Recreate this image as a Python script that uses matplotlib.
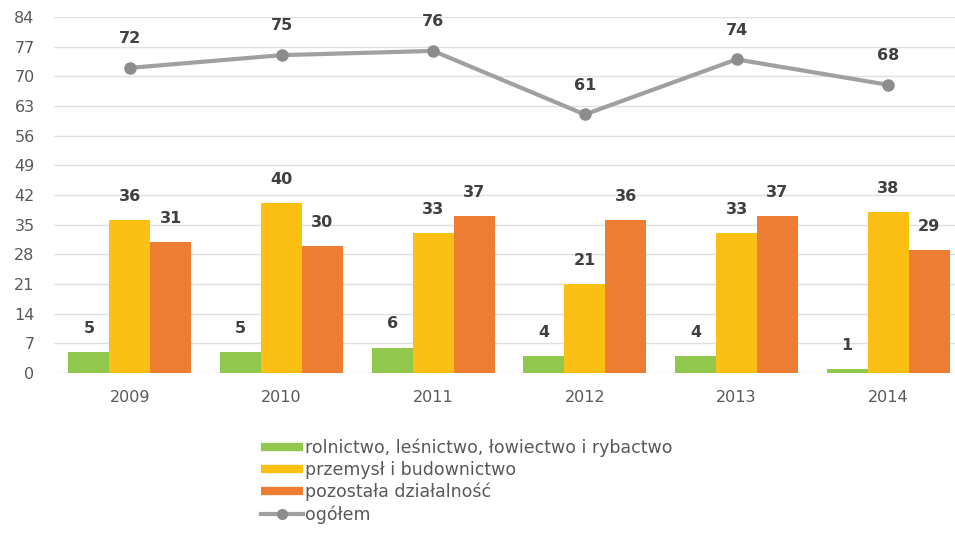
import matplotlib.pyplot as plt
from matplotlib.lines import Line2D
import numpy as np

plt.rcParams['font.family'] = ['DejaVu Sans']

# dane
lata = ['2009', '2010', '2011', '2012', '2013', '2014']
rolnictwo = [5, 5, 6, 4, 4, 1]
przemysl = [36, 40, 33, 21, 33, 38]
pozostala = [31, 30, 37, 36, 37, 29]
ogolem = [72, 75, 76, 61, 74, 68]

serie = ['rolnictwo, leśnictwo, łowiectwo i rybactwo',
         'przemysł i budownictwo',
         'pozostała działalność',
         'ogółem']
kolory = ['#92C84E', '#FCBF14', '#ED7D32']
szary_linia = '#A0A0A0'
szary_tekst = '#595959'
etykieta = '#404040'

fig = plt.figure(figsize=(9.55, 5.35), dpi=100)
ax = fig.add_axes([54 / 955, 0.3028, 910 / 955, 0.6654])

x = np.arange(len(lata))
w = 0.27
for i, (vals, kol) in enumerate(zip([rolnictwo, przemysl, pozostala], kolory)):
    pos = x + (i - 1) * w
    ax.bar(pos, vals, width=w, color=kol, zorder=2)
    for p, v in zip(pos, vals):
        ax.annotate(str(v), (p, v), xytext=(0, 17), textcoords='offset points',
                    ha='center', va='center', fontsize=11.5, fontweight='bold',
                    color=etykieta)

ax.plot(x, ogolem, color=szary_linia, lw=3, marker='o', markersize=8,
        markerfacecolor='#8C8C8C', markeredgecolor='#8C8C8C', zorder=3)
for p, v in zip(x, ogolem):
    ax.annotate(str(v), (p, v), xytext=(0, 21), textcoords='offset points',
                ha='center', va='center', fontsize=11.5, fontweight='bold',
                color=etykieta)

ax.set_xlim(-0.5, len(lata) - 0.5)
ax.set_ylim(0, 84)
ax.set_yticks(range(0, 85, 7))
ax.set_xticks(x)
ax.set_xticklabels(lata)
ax.tick_params(axis='both', length=0, labelsize=11.5, colors=szary_tekst)
ax.tick_params(axis='x', pad=12)
ax.tick_params(axis='y', pad=14)
ax.grid(axis='y', color='#E0E0E0', lw=1, zorder=0)
for s in ax.spines.values():
    s.set_visible(False)

uchwyty = [Line2D([], [], color=kolory[0], lw=6, solid_capstyle='butt'),
           Line2D([], [], color=kolory[1], lw=6, solid_capstyle='butt'),
           Line2D([], [], color=kolory[2], lw=6, solid_capstyle='butt'),
           Line2D([], [], color=szary_linia, lw=3, marker='o', markersize=7,
                  markerfacecolor='#8C8C8C', markeredgecolor='#8C8C8C')]
leg = fig.legend(uchwyty, serie, loc='upper left',
                 bbox_to_anchor=(252 / 955, 1 - 430 / 535), frameon=False,
                 fontsize=12.5, handlelength=2.45, handletextpad=0.1,
                 labelspacing=0.22, borderpad=0)
for t in leg.get_texts():
    t.set_color(szary_tekst)

fig.savefig('out.png', dpi=100)
